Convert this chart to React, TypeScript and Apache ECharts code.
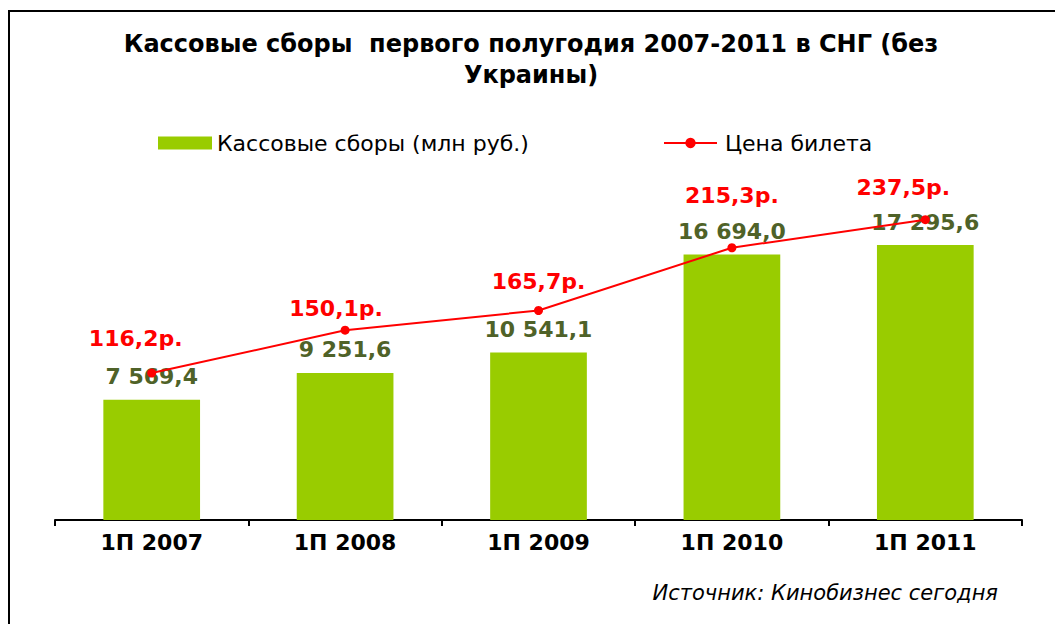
import React, { useEffect, useRef } from "react";
import * as echarts from "echarts";

const categories = ["1П 2007", "1П 2008", "1П 2009", "1П 2010", "1П 2011"];
const boxOffice = [7569.4, 9251.6, 10541.1, 16694.0, 17295.6];
const ticketPrice = [116.2, 150.1, 165.7, 215.3, 237.5];
const barName = "Кассовые сборы (млн руб.)";
const lineName = "Цена билета";
const titleText = "Кассовые сборы  первого полугодия 2007-2011 в СНГ (без\nУкраины)";
const sourceText = "Источник: Кинобизнес сегодня";

// label nudges (style only) for the price labels, as placed in the original
const priceLabelOffsets = [
  [-16, -13],
  [-9, 0],
  [0, -7],
  [0, -31],
  [-22, -11],
];

const FONT = "'DejaVu Sans', Verdana, sans-serif";

function fmtBar(v: number): string {
  const [i, d] = v.toFixed(1).split(".");
  return i.replace(/\B(?=(\d{3})+(?!\d))/g, " ") + "," + d;
}
function fmtPrice(v: number): string {
  return v.toFixed(1).replace(".", ",") + "р.";
}

export default function App() {
  const ref = useRef<HTMLDivElement>(null);
  useEffect(() => {
    if (!ref.current) return;
    const chart = echarts.init(ref.current, null, { renderer: "svg" });
    chart.setOption({
      animation: false,
      backgroundColor: "#ffffff",
      legend: [
        {
          data: [{ name: barName, icon: "rect" }],
          left: 158,
          top: 132,
          padding: 0,
          itemWidth: 54,
          itemHeight: 13,
          textStyle: { fontFamily: FONT, fontSize: 22, color: "#000" },
        },
        {
          data: [lineName],
          left: 663,
          top: 132,
          padding: 0,
          itemWidth: 53,
          itemHeight: 13,
          textStyle: { fontFamily: FONT, fontSize: 22, color: "#000", padding: [0, 0, 0, 3] },
        },
      ],
      grid: { left: 55, right: 33, top: 202, bottom: 104, containLabel: false },
      xAxis: {
        type: "category",
        data: categories,
        axisLine: { lineStyle: { color: "#000", width: 2 } },
        axisTick: { show: true, length: 6, lineStyle: { color: "#000", width: 2 } },
        axisLabel: {
          fontFamily: FONT,
          fontSize: 22,
          fontWeight: "bold",
          color: "#000",
          margin: 11,
        },
      },
      yAxis: [
        { type: "value", min: 0, max: 20000, show: false, splitLine: { show: false } },
        { type: "value", min: 0, max: 251.5, show: false, splitLine: { show: false } },
      ],
      series: [
        {
          name: barName,
          type: "bar",
          data: boxOffice,
          barWidth: "50%",
          itemStyle: { color: "#99CC00" },
          label: {
            show: true,
            position: "top",
            distance: 12,
            formatter: (p: any) => fmtBar(p.value),
            fontFamily: FONT,
            fontSize: 22,
            fontWeight: "bold",
            color: "#4F6228",
          },
          z: 2,
        },
        {
          name: lineName,
          type: "line",
          yAxisIndex: 1,
          data: ticketPrice.map((v, i) => ({
            value: v,
            label: { offset: priceLabelOffsets[i] },
          })),
          symbol: "circle",
          symbolSize: 9,
          lineStyle: { color: "#FF0000", width: 2 },
          itemStyle: { color: "#FF0000" },
          label: {
            show: true,
            position: "top",
            distance: 6,
            formatter: (p: any) => fmtPrice(p.value),
            fontFamily: FONT,
            fontSize: 22,
            fontWeight: "bold",
            color: "#FF0000",
          },
          z: 3,
        },
      ],
      graphic: [
        {
          type: "rect",
          shape: { x: 9, y: 11, width: 1200, height: 800 },
          style: { fill: "none", stroke: "#000", lineWidth: 2 },
          silent: true,
          z: 10,
        },
        {
          type: "text",
          x: 531,
          y: 28,
          style: {
            text: titleText,
            align: "center",
            verticalAlign: "top",
            fontFamily: FONT,
            fontSize: 24,
            fontWeight: "bold",
            lineHeight: 31,
            fill: "#000",
          },
        },
        {
          type: "text",
          right: 57,
          top: 582,
          style: {
            text: sourceText,
            fontFamily: FONT,
            fontSize: 21,
            fontStyle: "italic",
            fill: "#000",
          },
        },
      ],
    });
    return () => chart.dispose();
  }, []);
  return (
    <div
      ref={ref}
      style={{ position: "fixed", left: 0, top: 0, width: 1055, height: 624 }}
    />
  );
}
